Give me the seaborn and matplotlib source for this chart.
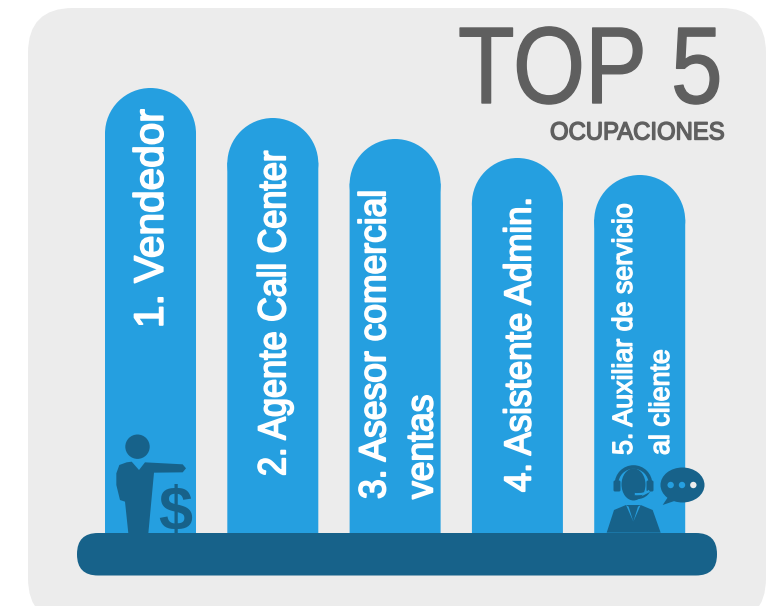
import matplotlib
matplotlib.use("Agg")
import matplotlib.pyplot as plt
import matplotlib.patheffects as pe
from matplotlib.patches import Circle, Ellipse, FancyBboxPatch, PathPatch, Polygon, Arc
from matplotlib.path import Path
from matplotlib.transforms import Affine2D
import pandas as pd
import seaborn as sns

# ==========================================
# DATA
# ==========================================
ocupaciones = ["Vendedor", "Agente Call Center", "Asesor comercial ventas",
               "Asistente Admin.", "Auxiliar de servicio al cliente"]
alturas = [445, 415, 394, 375, 358]
etiquetas = ["1. Vendedor", "2. Agente Call Center", "3. Asesor comercial\nventas",
             "4. Asistente Admin.", "5. Auxiliar de servicio\nal cliente"]

AZUL = "#259fe0"
OSCURO = "#17628a"
FONDO = "#ececec"
GRIS = "#5f5f5f"


class Apretar(pe.AbstractPathEffect):
    # narrows the glyphs along the text direction, the source has tight lettering
    def __init__(self, sx=1.0, grosor=0.0):
        super().__init__()
        self.sx = sx
        self.grosor = grosor

    def draw_path(self, renderer, gc, tpath, affine, rgbFace=None):
        gc0 = renderer.new_gc()
        gc0.copy_properties(gc)
        gc0.set_linewidth(self.grosor)
        gc0.set_foreground(rgbFace)
        renderer.draw_path(gc0, tpath, Affine2D().scale(self.sx, 1) + affine, rgbFace)
        gc0.restore()


plt.rcParams["font.family"] = ["Liberation Sans", "DejaVu Sans"]
fig = plt.figure(figsize=(7.8, 6.06), dpi=100, facecolor="white")

# pixel layer for the panel
fondo = fig.add_axes([0, 0, 1, 1], zorder=0)
fondo.set_xlim(0, 780)
fondo.set_ylim(606, 0)
fondo.axis("off")
fondo.add_patch(FancyBboxPatch((73, 53), 648, 525, boxstyle="round,pad=45,rounding_size=45",
                               fc=FONDO, ec="none"))

# ==========================================
# BARS
# ==========================================
df = pd.DataFrame({"ocupacion": ocupaciones, "altura": alturas})
ax = fig.add_axes([0, 0, 1, 1], zorder=1)
sns.barplot(data=df, x="ocupacion", y="altura", color=AZUL, saturation=1, width=0.744, ax=ax)
ax.set_xlim(-1.2306, 5.147)
ax.set_ylim(-73, 533)
ax.axis("off")

# round the top of every bar
for bar in ax.patches:
    radio = 45.5
    alto = bar.get_height()
    bar.set_height(alto - radio + 1)
    bar.set_edgecolor("none")
    bar.set_snap(False)
    ax.add_patch(Ellipse((bar.get_x() + bar.get_width() / 2, alto - radio),
                         bar.get_width(), radio * 2, fc=AZUL, ec="none"))

# ==========================================
# LABELS
# ==========================================
ajustes = [
    (0.01, 205, 29.5, 0.99, 1.3, 1.3),
    (0.02, 57, 28, 0.88, 1.3, 1.3),
    (0.03, 34, 27, 0.945, 1.3, 1.4),
    (0.025, 41, 27, 0.925, 1.3, 1.3),
    (0.03, 78, 20, 0.965, 1.0, 1.55),
]
for i, ((dx, y0, size, sx, grosor, interlinea), texto) in enumerate(zip(ajustes, etiquetas)):
    ax.text(i + dx, y0, texto, rotation=90, rotation_mode="anchor", ha="left", va="center",
            fontsize=size, color="white", linespacing=interlinea,
            path_effects=[Apretar(sx, grosor)], zorder=5)

# ==========================================
# TOP LAYER: BASE, TITLE, ICONS
# ==========================================
top = fig.add_axes([0, 0, 1, 1], zorder=2)
top.set_xlim(0, 780)
top.set_ylim(606, 0)
top.axis("off")
top.patch.set_alpha(0)

top.add_patch(FancyBboxPatch((98, 554), 598, 0.5, boxstyle="round,pad=21,rounding_size=21",
                             fc=OSCURO, ec="none"))

top.text(458, 103, "TOP 5", fontsize=78.5, color=GRIS, ha="left", va="baseline",
         path_effects=[Apretar(0.85, 1.0)])
top.text(550, 139.5, "OCUPACIONES", fontsize=18, color=GRIS, ha="left", va="baseline",
         path_effects=[Apretar(0.955, 1.0)])


def z1(pts):
    return [(90 + x / 3, 420 + y / 3) for x, y in pts]


def z2(pts):
    return [(590 + x / 3, 450 + y / 3) for x, y in pts]


# salesman
top.add_patch(Circle((137.5, 446.7), 12.2, fc=OSCURO, ec="none"))
cuerpo = [(79, 160), (88, 135), (110, 127), (125, 125), (147, 150), (165, 127), (278, 133),
          (288, 145), (278, 157), (192, 158), (175, 340), (115, 340), (105, 245), (90, 240), (79, 195)]
top.add_patch(Polygon(z1(cuerpo), closed=True, fc=OSCURO, ec="none", joinstyle="round"))
top.text(175.5, 507, "$", fontsize=44, fontweight="bold", color=OSCURO, ha="center", va="center_baseline")

# call center agent
top.add_patch(Ellipse((633.5, 484.5), 24, 32, fc=OSCURO, ec="none"))
top.add_patch(Arc((633.5, 484), 34, 34, theta1=180, theta2=360, ec=OSCURO, lw=2.6))
top.add_patch(FancyBboxPatch((615, 482), 4, 8, boxstyle="round,pad=1.5", fc=OSCURO, ec="none"))
top.add_patch(FancyBboxPatch((648, 482), 4, 8, boxstyle="round,pad=1.5", fc=OSCURO, ec="none"))
top.add_patch(Arc((637, 487), 26, 22, theta1=15, theta2=115, ec=OSCURO, lw=1.6))
brazo = z2([(178, 122), (165, 135), (132, 132)])
top.add_patch(PathPatch(Path(brazo, [Path.MOVETO, Path.CURVE3, Path.CURVE3]), fc="none", ec=AZUL, lw=1.6))
top.add_patch(Circle(z2([(128, 132)])[0], 2.2, fc=OSCURO, ec="none"))
saco = [(50, 248), (72, 180), (108, 165), (152, 165), (188, 180), (212, 248)]
top.add_patch(Polygon(z2(saco), closed=True, fc=OSCURO, ec="none", joinstyle="round"))
for cuello in ([(108, 165), (130, 215), (116, 170)], [(152, 165), (130, 215), (144, 170)]):
    top.add_patch(Polygon(z2(cuello), closed=True, fc=AZUL, ec="none"))

# speech bubble
top.add_patch(Ellipse((682.5, 485), 44, 35, fc=OSCURO, ec="none"))
top.add_patch(Polygon(z2([(238, 135), (218, 165), (262, 150)]), closed=True, fc=OSCURO, ec="none",
                      joinstyle="round"))
for (zx, zy), c in zip([(242, 105), (276, 105), (310, 105)], [AZUL, AZUL, FONDO]):
    top.add_patch(Circle(z2([(zx, zy)])[0], 3.2, fc=c, ec="none"))

fig.savefig("out.png", dpi=100)
